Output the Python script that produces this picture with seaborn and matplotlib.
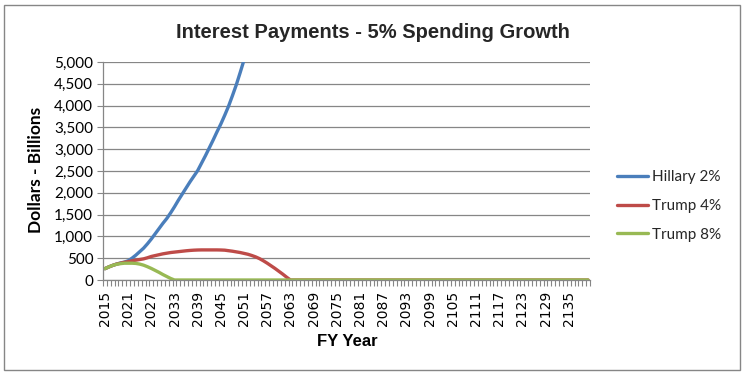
import matplotlib
matplotlib.use("Agg")
import matplotlib.pyplot as plt
import numpy as np
import pandas as pd
import seaborn as sns
from matplotlib.ticker import FuncFormatter, FixedLocator
from matplotlib.patches import Rectangle
from matplotlib.lines import Line2D

# ---------------- data ----------------
start_year = 2015
end_year = 2140

hillary_2 = [
    260, 300, 335, 365, 390, 410, 440, 500, 570, 650,          # 2015-2024
    730, 830, 940, 1060, 1180, 1300, 1410, 1540, 1680, 1830,   # 2025-2034
    1970, 2110, 2250, 2380, 2510, 2680, 2850, 3030, 3210, 3400,  # 2035-2044
    3580, 3780, 3990, 4230, 4480, 4760, 5050,                  # 2045-2051
]

trump_4 = [
    260, 300, 335, 365, 385, 405, 420, 440, 455, 470,          # 2015-2024
    485, 510, 540, 560, 580, 600, 615, 630, 640, 650,          # 2025-2034
    660, 670, 678, 684, 688, 690, 690, 690, 690, 690,          # 2035-2044
    688, 684, 672, 660, 645, 630, 610, 590, 562, 530,          # 2045-2054
    490, 440, 385, 325, 265, 200, 135, 65, 0, 0,               # 2055-2064
    0, 0, 0, 0, 0, 0, 0, 0, 0, 0,                              # 2065-2074
    0, 0, 0, 0, 0, 0, 0, 0, 0, 0,                              # 2075-2084
    0, 0, 0, 0, 0, 0, 0, 0, 0, 0,                              # 2085-2094
    0, 0, 0, 0, 0, 0, 0, 0, 0, 0,                              # 2095-2104
    0, 0, 0, 0, 0, 0, 0, 0, 0, 0,                              # 2105-2114
    0, 0, 0, 0, 0, 0, 0, 0, 0, 0,                              # 2115-2124
    0, 0, 0, 0, 0, 0, 0, 0, 0, 0,                              # 2125-2134
    0, 0, 0, 0, 0, 0,                                          # 2135-2140
]

trump_8 = [
    260, 300, 335, 360, 375, 385, 385, 385, 380, 365,          # 2015-2024
    340, 305, 265, 220, 175, 125, 80, 35, 0, 0,                # 2025-2034
    0, 0, 0, 0, 0, 0, 0, 0, 0, 0,                              # 2035-2044
    0, 0, 0, 0, 0, 0, 0, 0, 0, 0,                              # 2045-2054
    0, 0, 0, 0, 0, 0, 0, 0, 0, 0,                              # 2055-2064
    0, 0, 0, 0, 0, 0, 0, 0, 0, 0,                              # 2065-2074
    0, 0, 0, 0, 0, 0, 0, 0, 0, 0,                              # 2075-2084
    0, 0, 0, 0, 0, 0, 0, 0, 0, 0,                              # 2085-2094
    0, 0, 0, 0, 0, 0, 0, 0, 0, 0,                              # 2095-2104
    0, 0, 0, 0, 0, 0, 0, 0, 0, 0,                              # 2105-2114
    0, 0, 0, 0, 0, 0, 0, 0, 0, 0,                              # 2115-2124
    0, 0, 0, 0, 0, 0, 0, 0, 0, 0,                              # 2125-2134
    0, 0, 0, 0, 0, 0,                                          # 2135-2140
]

series_names = ["Hillary 2%", "Trump 4%", "Trump 8%"]
series_values = [hillary_2, trump_4, trump_8]
colors = ["#4A7EBB", "#BE4B48", "#98B954"]

y_ticks = list(range(0, 5001, 500))
x_label_years = list(range(2015, 2136, 6))

# --------------- long-form table ---------------
frames = []
for name, vals in zip(series_names, series_values):
    yrs = list(range(start_year, start_year + len(vals)))
    frames.append(pd.DataFrame({"Year": yrs, "Value": vals, "Series": name}))
df = pd.concat(frames, ignore_index=True)

# --------------- plot ---------------
sns.set_theme(style="white")
plt.rcParams['font.family'] = ['Liberation Sans', 'DejaVu Sans']

W, H = 745, 375
fig = plt.figure(figsize=(W / 100, H / 100), dpi=100)
fig.patch.set_facecolor("white")

left, right, top, bottom = 103, 590, 62, 280
ax = fig.add_axes([left / W, 1 - bottom / H, (right - left) / W, (bottom - top) / H])

sns.lineplot(data=df, x="Year", y="Value", hue="Series",
             hue_order=series_names, palette=colors,
             linewidth=2.4, ax=ax, legend=False, sort=False)

ax.set_xlim(start_year - 0.5, end_year + 0.5)
ax.set_ylim(0, 5000)

ax.yaxis.set_major_locator(FixedLocator(y_ticks))
ax.yaxis.set_major_formatter(FuncFormatter(lambda v, p: f"{int(v):,}"))
ax.tick_params(axis="y", length=4, width=0.8, color="#868686", direction="out",
               pad=3, labelsize=11, labelcolor="black", left=True)
for lbl in ax.get_yticklabels():
    lbl.set_fontfamily(["Lato", "DejaVu Sans"])

ax.xaxis.set_major_locator(FixedLocator(x_label_years))
ax.set_xticklabels([str(y) for y in x_label_years], rotation=90,
                   fontfamily=["DejaVu Sans"])
minor_pos = [y - 0.5 for y in range(start_year, end_year + 2)]
ax.xaxis.set_minor_locator(FixedLocator(minor_pos))
ax.tick_params(axis="x", which="major", length=0, pad=8, labelsize=10, labelcolor="black")
ax.tick_params(axis="x", which="minor", length=4, width=0.8, color="#868686",
               direction="out", bottom=True)

ax.grid(axis="y", color="#868686", linewidth=0.9)
ax.grid(axis="x", visible=False)
ax.set_axisbelow(True)
for s in ["top", "right"]:
    ax.spines[s].set_visible(False)
for s in ["left", "bottom"]:
    ax.spines[s].set_color("#868686")
    ax.spines[s].set_linewidth(0.9)

ax.set_ylabel("Dollars - Billions", fontsize=12.5, fontweight="bold", color="black",
              fontfamily=["Lato", "DejaVu Sans"])
ax.yaxis.set_label_coords((44 - left) / (right - left), (bottom - 170) / (bottom - top))
ax.set_xlabel("FY Year", fontsize=12, fontweight="bold", color="black")
ax.xaxis.set_label_coords((347 - left) / (right - left), (bottom - 334) / (bottom - top))

fig.text(0.5, 1 - 32 / H, "Interest Payments - 5% Spending Growth",
         ha="center", va="center", fontsize=14.5, fontweight="bold")

handles = [Line2D([0], [0], color=c, lw=2.4) for c in colors]
ax.legend(handles, series_names, loc="center left",
          bbox_to_anchor=(617 / W, 1 - 206 / H), bbox_transform=fig.transFigure,
          frameon=False, prop={"family": ["Lato", "DejaVu Sans"], "size": 11},
          handlelength=2.0, handletextpad=0.3,
          labelspacing=0.95, borderpad=0, borderaxespad=0)

fig.patches.append(Rectangle((4 / W, 5 / H), (740 - 4) / W, (370 - 5) / H,
                             transform=fig.transFigure, fill=False,
                             edgecolor="#868686", linewidth=1.0))

fig.savefig("out.png", dpi=100, facecolor="white")
